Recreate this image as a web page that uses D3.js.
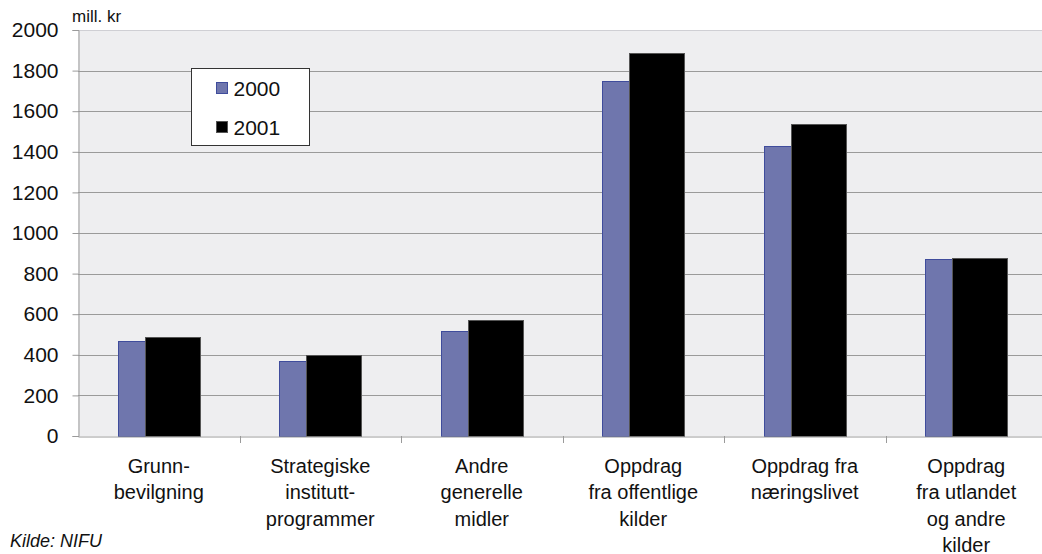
<!DOCTYPE html>
<html>
<head>
<meta charset="utf-8">
<script src="https://cdn.jsdelivr.net/npm/d3@7"></script>
<style>
  body { margin: 0; background: #fff; }
  svg text { font-family: "Liberation Sans", Arial, sans-serif; fill: #111; }
</style>
</head>
<body>
<div id="chart"><svg></svg></div>
<script>
// categories (line-broken as in the original)
var categories = [
    ["Grunn-", "bevilgning"],
    ["Strategiske", "institutt-", "programmer"],
    ["Andre", "generelle", "midler"],
    ["Oppdrag", "fra offentlige", "kilder"],
    ["Oppdrag fra", "næringslivet"],
    ["Oppdrag", "fra utlandet", "og andre", "kilder"]
];
var series = ["2000", "2001"];
var values2000 = [468, 370, 515, 1750, 1430, 870];
var values2001 = [490, 400, 570, 1888, 1535, 875];
var yTicks = [0, 200, 400, 600, 800, 1000, 1200, 1400, 1600, 1800, 2000];

var colors = {"2000": "#6f76ad", "2001": "#000000"};
var strokes = {"2000": "#3f4c9c", "2001": "#555555"};

// set the dimensions and margins of the graph
var margin = {top: 30, right: -5, bottom: 118, left: 78},
    width = 1042 - margin.left - margin.right,
    height = 554 - margin.top - margin.bottom;

var svg = d3.select("#chart").select("svg")
    .attr("width", 1042)
    .attr("height", 554);

var g = svg.append("g")
    .attr("transform", "translate(" + margin.left + "," + margin.top + ")");

// set the ranges
var x = d3.scaleBand()
    .domain(d3.range(categories.length))
    .range([0, width]);
var y = d3.scaleLinear()
    .domain([0, 2000])
    .range([height, 0]);

// plot background
g.append("rect")
    .attr("width", width)
    .attr("height", height)
    .attr("fill", "#eeeef0");

// gridlines
g.selectAll(".grid")
    .data(yTicks.slice(1))
    .enter().append("line")
    .attr("class", "grid")
    .attr("x1", 0).attr("x2", width)
    .attr("y1", function (d) { return Math.round(y(d)) + 0.5; })
    .attr("y2", function (d) { return Math.round(y(d)) + 0.5; })
    .attr("stroke", function (d) { return d === 2000 ? "#cfcfd4" : "#9a9a9a"; })
    .attr("stroke-width", 1);

// bars: 2000 behind, 2001 overlapping in front
var bw = x.bandwidth() * 0.34,
    off = bw * 0.49;
var data = categories.map(function (c, i) {
    return {i: i, "2000": values2000[i], "2001": values2001[i]};
});

series.forEach(function (s, k) {
    g.selectAll(".bar-" + s)
        .data(data)
        .enter().append("rect")
        .attr("class", "bar-" + s)
        .attr("x", function (d) {
            var c = x(d.i) + x.bandwidth() / 2 - (bw + off) / 2;
            return Math.round(c + k * off) + 0.5;
        })
        .attr("width", Math.round(bw))
        .attr("y", function (d) { return Math.round(y(d[s])) + 0.5; })
        .attr("height", function (d) { return height - Math.round(y(d[s])); })
        .attr("fill", colors[s])
        .attr("stroke", strokes[s])
        .attr("stroke-width", 1);
});

// y axis
var yAxis = g.append("g")
    .attr("transform", "translate(0.5,0)")
    .call(d3.axisLeft(y).tickValues(yTicks).tickFormat(d3.format("d")).tickSize(6).tickPadding(14));
yAxis.select(".domain").attr("stroke", "#9a9a9a");
yAxis.selectAll(".tick line").attr("stroke", "#9a9a9a");
yAxis.selectAll("text")
    .style("font-size", "21px")
    .attr("fill", "#111");

// x axis
var xAxis = g.append("g")
    .attr("transform", "translate(0," + (height + 0.5) + ")")
    .call(d3.axisBottom(x).tickSize(0).tickFormat(""));
xAxis.select(".domain").attr("stroke", "#9a9a9a");
xAxis.selectAll(".tick").remove();

// category separators
g.selectAll(".sep")
    .data(d3.range(1, categories.length))
    .enter().append("line")
    .attr("x1", function (d) { return Math.round(x(d)) + 0.5; })
    .attr("x2", function (d) { return Math.round(x(d)) + 0.5; })
    .attr("y1", height)
    .attr("y2", height + 7)
    .attr("stroke", "#9a9a9a");

// category labels
var lab = g.selectAll(".cat")
    .data(categories)
    .enter().append("text")
    .attr("class", "cat")
    .attr("text-anchor", "middle")
    .style("font-size", "20px")
    .attr("transform", function (d, i) {
        return "translate(" + (x(i) + x.bandwidth() / 2) + "," + (height + 37) + ")";
    });
lab.selectAll("tspan")
    .data(function (d) { return d; })
    .enter().append("tspan")
    .attr("x", 0)
    .attr("y", function (d, j) { return j * 26.3; })
    .text(function (d) { return d; });

// unit
svg.append("text")
    .attr("x", 72)
    .attr("y", 22)
    .style("font-size", "17px")
    .text("mill. kr");

// source
svg.append("text")
    .attr("x", 10)
    .attr("y", 547)
    .style("font-size", "18px")
    .style("font-style", "italic")
    .text("Kilde: NIFU");

// legend
var legend = svg.append("g").attr("transform", "translate(191.5,68.5)");
legend.append("rect")
    .attr("width", 118)
    .attr("height", 77)
    .attr("fill", "#fff")
    .attr("stroke", "#333");
series.forEach(function (s, k) {
    legend.append("rect")
        .attr("x", 25)
        .attr("y", 14 + k * 39)
        .attr("width", 11)
        .attr("height", 11)
        .attr("fill", colors[s])
        .attr("stroke", strokes[s]);
    legend.append("text")
        .attr("x", 42)
        .attr("y", 27 + k * 39)
        .style("font-size", "21px")
        .text(s);
});
</script>
</body>
</html>
